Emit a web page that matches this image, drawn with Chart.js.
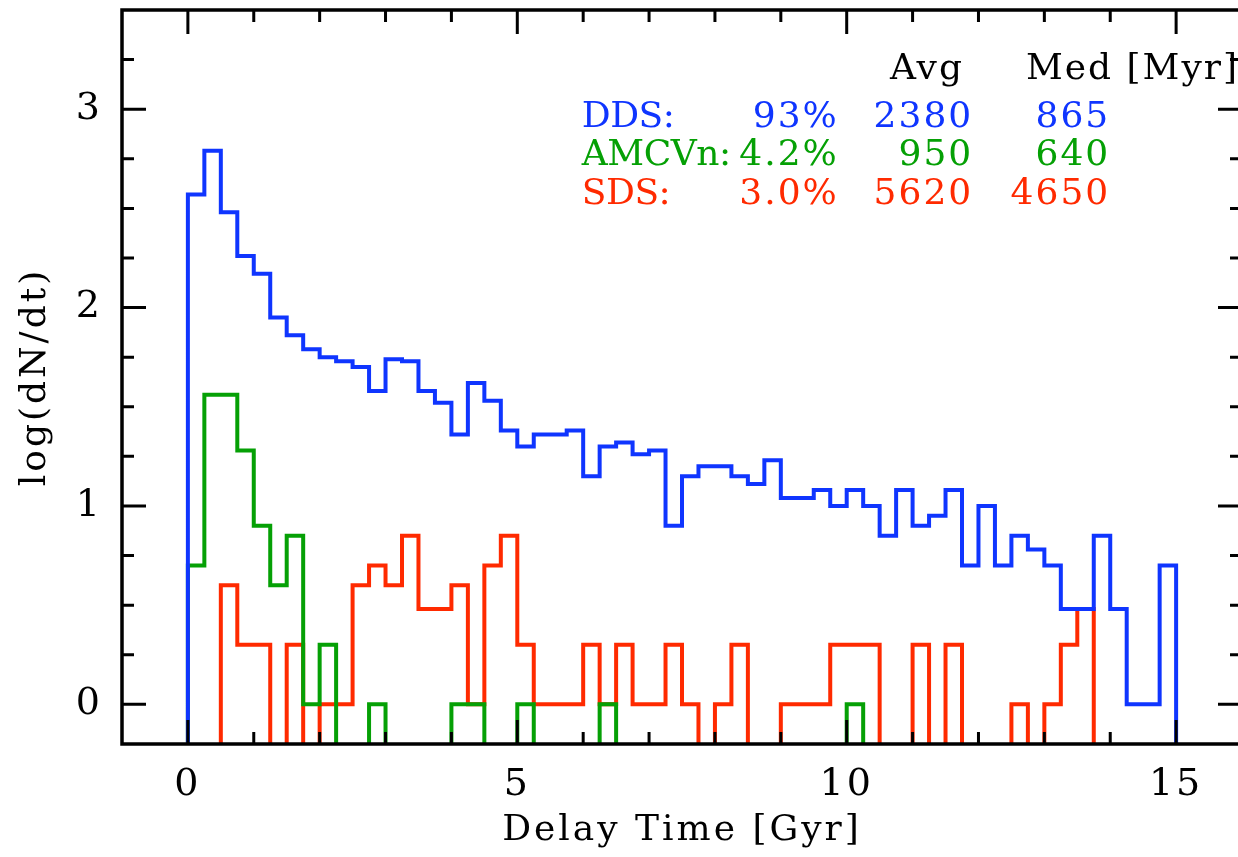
<!DOCTYPE html>
<html lang="en">
<head>
  <meta charset="UTF-8" />
  <title>Delay time distribution</title>
  <script src="https://cdn.jsdelivr.net/npm/chart.js"></script>
  <style>
    body { margin: 0; overflow: hidden; background: #fff; }
    #wrap { position: relative; width: 1246px; height: 857px; }
  </style>
</head>
<body>
<div id="wrap"><canvas id="chart"></canvas></div>
<script>
// bin left edges [Gyr] (0.25 Gyr bins), last entry = right edge of last bin
const binEdges = [
  0, 0.25, 0.5, 0.75, 1, 1.25, 1.5, 1.75, 2, 2.25,
  2.5, 2.75, 3, 3.25, 3.5, 3.75, 4, 4.25, 4.5, 4.75,
  5, 5.25, 5.5, 5.75, 6, 6.25, 6.5, 6.75, 7, 7.25,
  7.5, 7.75, 8, 8.25, 8.5, 8.75, 9, 9.25, 9.5, 9.75,
  10, 10.25, 10.5, 10.75, 11, 11.25, 11.5, 11.75, 12, 12.25,
  12.5, 12.75, 13, 13.25, 13.5, 13.75, 14, 14.25, 14.5, 14.75,
  15
];

// log(dN/dt) per bin, null = empty bin
const ddsValues = [
  2.57, 2.79, 2.48, 2.26, 2.17, 1.95, 1.86, 1.79, 1.75, 1.73,
  1.70, 1.58, 1.74, 1.73, 1.58, 1.52, 1.36, 1.62, 1.53, 1.38,
  1.30, 1.36, 1.36, 1.38, 1.15, 1.30, 1.32, 1.26, 1.28, 0.90,
  1.15, 1.20, 1.20, 1.15, 1.11, 1.23, 1.04, 1.04, 1.08, 1.00,
  1.08, 1.00, 0.85, 1.08, 0.90, 0.95, 1.08, 0.70, 1.00, 0.70,
  0.85, 0.78, 0.70, 0.48, 0.48, 0.85, 0.48, 0.00, 0.00, 0.70
];
const amcvnValues = [
  0.70, 1.56, 1.56, 1.28, 0.90, 0.60, 0.85, 0.00, 0.30, null,
  null, 0.00, null, null, null, null, 0.00, 0.00, null, null,
  0.00, null, null, null, null, 0.00, null, null, null, null,
  null, null, null, null, null, null, null, null, null, null,
  0.00, null, null, null, null, null, null, null, null, null,
  null, null, null, null, null, null, null, null, null, null
];
const sdsValues = [
  null, null, 0.60, 0.30, 0.30, null, 0.30, null, 0.00, 0.00,
  0.60, 0.70, 0.60, 0.85, 0.48, 0.48, 0.60, 0.00, 0.70, 0.85,
  0.30, 0.00, 0.00, 0.00, 0.30, 0.00, 0.30, 0.00, 0.00, 0.30,
  0.00, null, 0.00, 0.30, null, null, 0.00, 0.00, 0.00, 0.30,
  0.30, 0.30, null, null, 0.30, null, 0.30, null, null, null,
  0.00, null, 0.00, 0.30, 0.48, null, null, null, null, null
];

const xTickLabels = [0, 5, 10, 15];
const yTickLabels = [0, 1, 2, 3];

// stats table
const tableHeader = ['Avg', 'Med [Myr]'];
const channels = ['DDS:', 'AMCVn:', 'SDS:'];
const fractions = ['93%', '4.2%', '3.0%'];
const avgDelay = ['2380', '950', '5620'];
const medDelay = ['865', '640', '4650'];

const BLUE = '#0f35ff', GREEN = '#05a005', RED = '#ff2a00';
const rowColors = [BLUE, GREEN, RED];
const FLOOR = -1; // empty bins drop below the axis
const FONT = "'DejaVu Serif', serif";

function stepPoints(values) {
  const pts = [{ x: binEdges[0], y: FLOOR }];
  values.forEach((v, i) => pts.push({ x: binEdges[i], y: v === null ? FLOOR : v }));
  pts.push({ x: binEdges[values.length], y: FLOOR });
  return pts;
}

const spacing = {
  id: 'spacing',
  beforeDraw(chart) { chart.ctx.letterSpacing = '3px'; }
};

const frame = {
  id: 'frame',
  afterDatasetsDraw(chart) {
    const { ctx, chartArea: a } = chart;
    const xs = chart.scales.x, ys = chart.scales.y;
    ctx.save();
    ctx.strokeStyle = '#000';
    ctx.lineWidth = 3;
    ctx.beginPath();
    for (let v = 0; v <= 16; v++) {
      const px = xs.getPixelForValue(v);
      const len = v % 5 === 0 ? 24 : 12;
      ctx.moveTo(px, a.bottom); ctx.lineTo(px, a.bottom - len);
      ctx.moveTo(px, a.top); ctx.lineTo(px, a.top + len);
    }
    for (let k = 0; k <= 13; k++) {
      const py = ys.getPixelForValue(k * 0.25);
      const len = k % 4 === 0 ? 24 : 12;
      ctx.moveTo(a.left, py); ctx.lineTo(a.left + len, py);
      ctx.moveTo(a.right, py); ctx.lineTo(a.right - len, py);
    }
    ctx.stroke();
    ctx.lineWidth = 3.5;
    ctx.strokeRect(a.left, a.top, a.right - a.left, a.bottom - a.top);
    ctx.restore();
  },
  afterDraw(chart) {
    const { ctx } = chart;
    const xs = chart.scales.x, ys = chart.scales.y;
    const X = v => xs.getPixelForValue(v), Y = v => ys.getPixelForValue(v);
    ctx.save();
    ctx.font = '36px ' + FONT;
    ctx.textBaseline = 'middle';
    ctx.fillStyle = '#000';
    ctx.letterSpacing = '2px';
    ctx.textAlign = 'right';
    ctx.fillText(tableHeader[0], X(11.78), Y(3.2));
    ctx.textAlign = 'left';
    ctx.fillText(tableHeader[1], X(12.72), Y(3.2));
    const rowY = [2.955, 2.764, 2.568];
    channels.forEach((name, i) => {
      ctx.fillStyle = rowColors[i];
      ctx.letterSpacing = '-0.5px';
      ctx.textAlign = 'left';
      ctx.fillText(name, X(5.98), Y(rowY[i]));
      ctx.letterSpacing = '2px';
      ctx.textAlign = 'right';
      ctx.fillText(fractions[i], X(9.88), Y(rowY[i]));
      ctx.fillText(avgDelay[i], X(11.92), Y(rowY[i]));
      ctx.fillText(medDelay[i], X(14.0), Y(rowY[i]));
    });
    ctx.restore();
  }
};

Chart.defaults.font.family = FONT;
Chart.defaults.font.size = 36;
Chart.defaults.color = '#000';

const line = (data, color) => ({
  data, borderColor: color, borderWidth: 4, stepped: true,
  pointRadius: 0, fill: false, clip: 0, borderJoinStyle: 'miter'
});

const noPad = s => { s.paddingTop = 0; s.paddingBottom = 0; s.paddingLeft = 0; s.paddingRight = 0; };

new Chart(document.getElementById('chart'), {
  type: 'line',
  data: {
    datasets: [
      line(stepPoints(ddsValues), BLUE),
      line(stepPoints(amcvnValues), GREEN),
      line(stepPoints(sdsValues), RED)
    ]
  },
  options: {
    responsive: true,
    maintainAspectRatio: false,
    devicePixelRatio: 1,
    animation: false,
    layout: { padding: { top: 10, right: 4, left: 0, bottom: 0 } },
    plugins: { legend: { display: false }, tooltip: { enabled: false } },
    scales: {
      x: {
        type: 'linear', min: -1, max: 16,
        grid: { display: false }, border: { display: false },
        ticks: { padding: 10, maxRotation: 0, font: { size: 38 }, callback: v => String(v) },
        afterBuildTicks: s => { s.ticks = xTickLabels.map(v => ({ value: v })); },
        afterFit: s => { s.height = 113; noPad(s); },
        title: { display: true, text: 'Delay Time [Gyr]', padding: { top: 0, bottom: 5 } }
      },
      y: {
        type: 'linear', min: -0.2, max: 3.5,
        grid: { display: false }, border: { display: false },
        ticks: { padding: 11, font: { size: 38 }, callback: v => String(v) },
        afterBuildTicks: s => { s.ticks = yTickLabels.map(v => ({ value: v })); },
        afterFit: s => { s.width = 122; noPad(s); },
        title: { display: true, text: 'log(dN/dt)', padding: { top: 14, bottom: 0 } }
      }
    }
  },
  plugins: [spacing, frame]
});
</script>
</body>
</html>
